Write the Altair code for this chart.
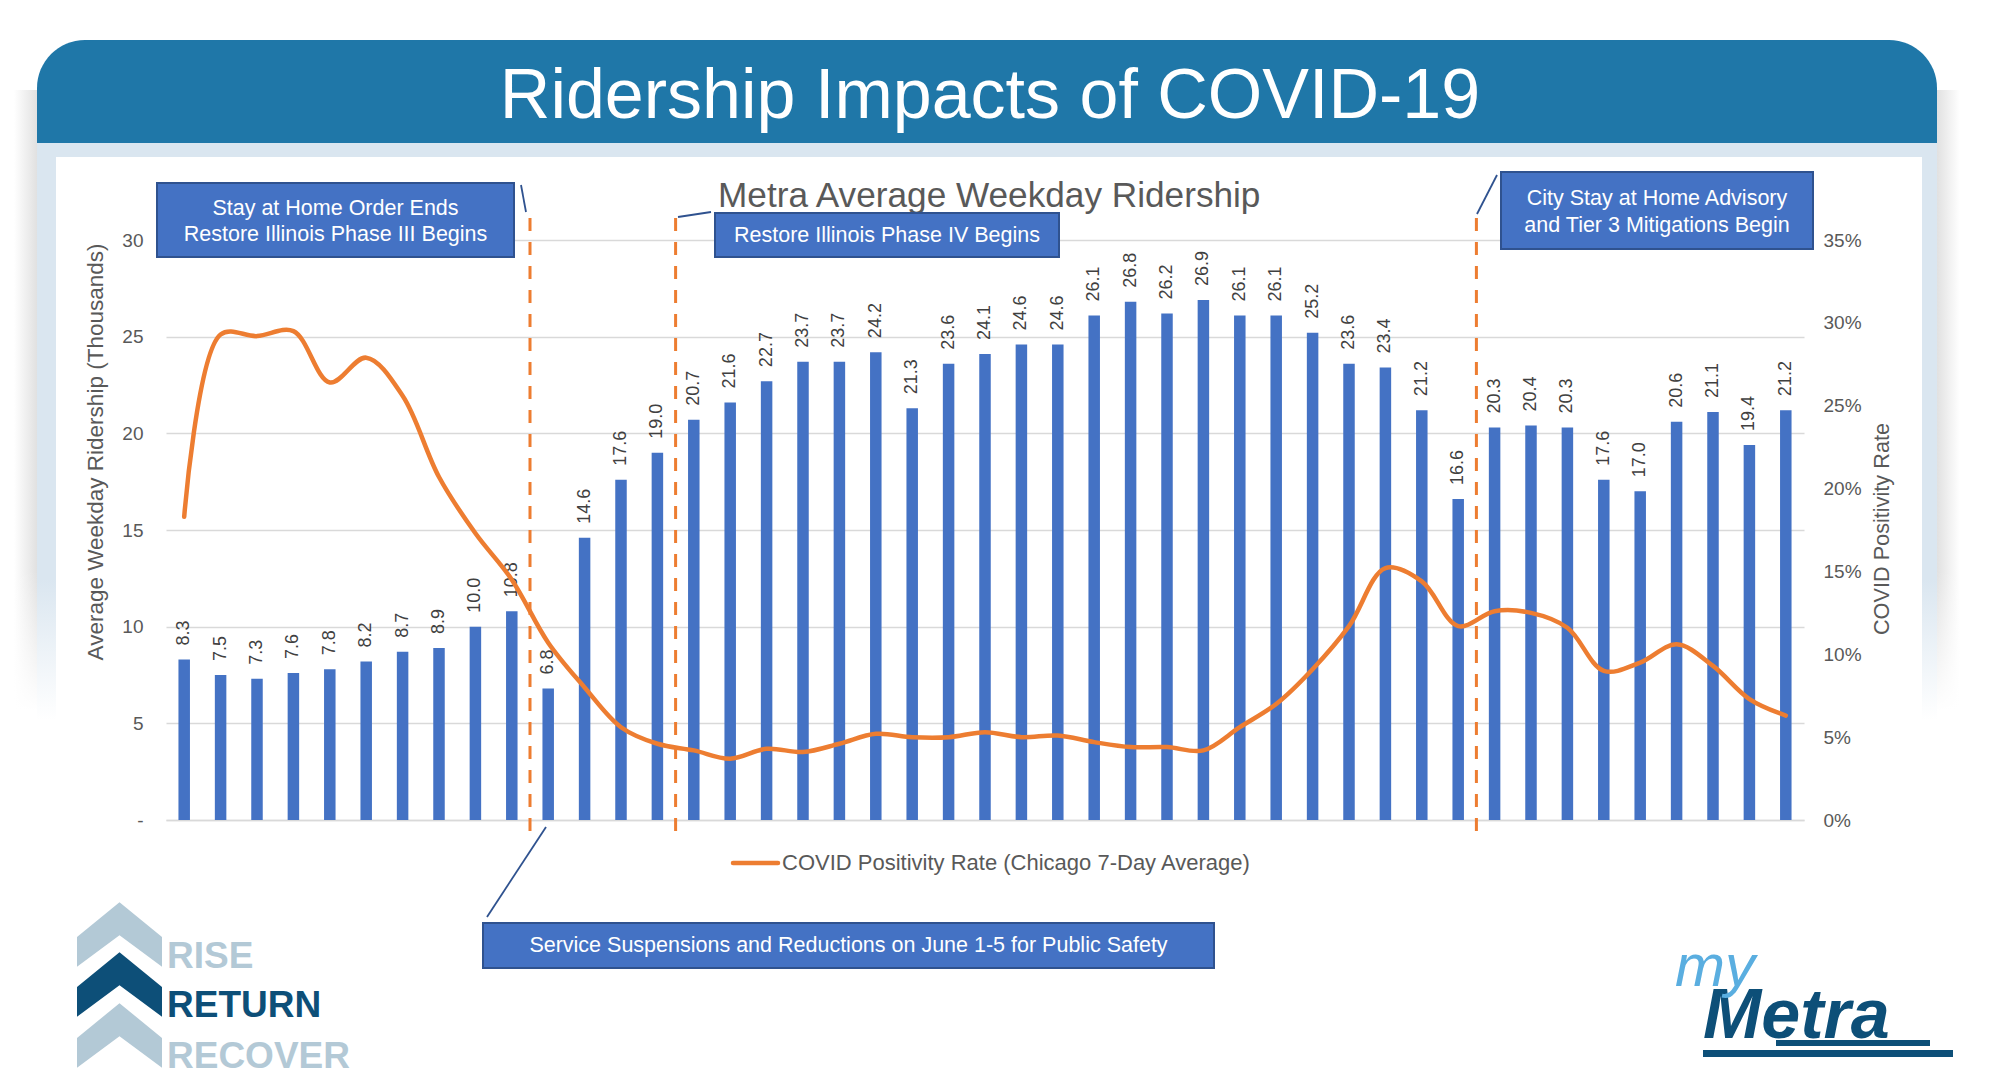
import altair as alt
import pandas as pd

FONT = "Liberation Sans"

# ---------------- data ----------------
ridership = [8.3, 7.5, 7.3, 7.6, 7.8, 8.2, 8.7, 8.9, 10.0, 10.8, 6.8, 14.6, 17.6, 19.0,
             20.7, 21.6, 22.7, 23.7, 23.7, 24.2, 21.3, 23.6, 24.1, 24.6, 24.6, 26.1, 26.8,
             26.2, 26.9, 26.1, 26.1, 25.2, 23.6, 23.4, 21.2, 16.6, 20.3, 20.4, 20.3, 17.6,
             17.0, 20.6, 21.1, 19.4, 21.2]
positivity = [18.3, 29.3, 29.2, 29.5, 26.4, 27.9, 25.6, 20.7, 17.3, 14.5, 10.7, 8.0, 5.6,
              4.6, 4.2, 3.7, 4.3, 4.1, 4.6, 5.2, 5.0, 5.0, 5.3, 5.0, 5.1, 4.7, 4.4, 4.4, 4.2,
              5.6, 7.0, 9.1, 11.7, 15.2, 14.4, 11.7, 12.6, 12.5, 11.6, 9.0, 9.5, 10.6, 9.3,
              7.3, 6.3]
weeks = list(range(len(ridership)))
event_positions = [9.5, 13.5, 35.5]   # boundaries between weeks where events occurred
left_ticks = [0, 5, 10, 15, 20, 25, 30]
right_ticks = [0, 5, 10, 15, 20, 25, 30, 35]

page_title = "Ridership Impacts of COVID-19"
chart_title = "Metra Average Weekday Ridership"
left_axis_title = "Average Weekday Ridership (Thousands)"
right_axis_title = "COVID Positivity Rate"
legend_label = "COVID Positivity Rate (Chicago 7-Day Average)"
box1_lines = ["Stay at Home Order Ends", "Restore Illinois Phase III Begins"]
box2_lines = ["Restore Illinois Phase IV Begins"]
box3_lines = ["City Stay at Home Advisory", "and Tier 3 Mitigations Begin"]
box4_lines = ["Service Suspensions and Reductions on June 1-5 for Public Safety"]
logo_words = ["RISE", "RETURN", "RECOVER"]

df = pd.DataFrame({"week": weeks, "riders": ridership, "rate": positivity})
ev = pd.DataFrame({"pos": event_positions})
one = pd.DataFrame({"k": [0]})

# ---------------- styles ----------------
BAR = "#4472C4"
ORANGE = "#ED7D31"
BOXLINE = "#2F528F"
GRAY = "#595959"
HEADER = "#1F77A8"
STRIP = "#DAE6F0"
LOGO_LIGHT = "#B3C9D6"
LOGO_DARK = "#0D4F78"

x_scale = alt.Scale(domain=[-0.5, 44.5], nice=False, zero=False, padding=0)
x_axis = alt.Axis(labels=False, ticks=False, grid=False, domain=True,
                  domainColor="#D9D9D9", domainWidth=1.5, title=None)
yl_scale = alt.Scale(domain=[0, 30], nice=False, padding=0)
yl_axis = alt.Axis(values=left_ticks, orient="left", title=None, domain=False, ticks=False,
                   grid=True, gridColor="#D9D9D9", gridWidth=1.3,
                   labelFont=FONT, labelFontSize=19, labelColor=GRAY, labelPadding=23,
                   labelExpr="datum.value == 0 ? '-\u00a0\u00a0' : datum.label")
yr_scale = alt.Scale(domain=[0, 35], nice=False, padding=0)
yr_axis = alt.Axis(values=right_ticks, orient="right", title=None, domain=False, ticks=False,
                   grid=False, labelFont=FONT, labelFontSize=19, labelColor=GRAY,
                   labelPadding=19, labelExpr="datum.value + '%'")


def rect(x, x2, y, y2, **kw):
    return alt.Chart(one).mark_rect(**kw).encode(
        x=alt.value(x), x2=alt.value(x2), y=alt.value(y), y2=alt.value(y2))


def seg(x, y, x2, y2, **kw):
    return alt.Chart(one).mark_rule(**kw).encode(
        x=alt.value(x), y=alt.value(y), x2=alt.value(x2), y2=alt.value(y2))


def txt(s, x, y, **kw):
    kw.setdefault("font", FONT)
    return alt.Chart(one).mark_text(text=s, **kw).encode(x=alt.value(x), y=alt.value(y))


# ---------------- decorations (pixel coords relative to plot origin) ----------------
deco = []
# card shadow
shadow_h = {"gradient": "linear", "x1": 0, "x2": 1, "y1": 0, "y2": 0,
            "stops": [{"offset": 0, "color": "#FFFFFF"}, {"offset": 1, "color": "#D4D4D4"}]}
shadow_h2 = {"gradient": "linear", "x1": 0, "x2": 1, "y1": 0, "y2": 0,
             "stops": [{"offset": 0, "color": "#D4D4D4"}, {"offset": 1, "color": "#FFFFFF"}]}
white_fade = {"gradient": "linear", "x1": 0, "x2": 0, "y1": 0, "y2": 1,
              "stops": [{"offset": 0, "color": "rgba(255,255,255,0)"},
                        {"offset": 1, "color": "rgba(255,255,255,1)"}]}
deco.append(rect(-152, -129, -150, 470, color=shadow_h, opacity=0.7))
deco.append(rect(1771, 1794, -150, 470, color=shadow_h2, opacity=0.7))
deco.append(rect(-152, -129, 330, 471, color=white_fade))
deco.append(rect(1771, 1794, 330, 471, color=white_fade))
# light blue frame
fade_v = {"gradient": "linear", "x1": 0, "x2": 0, "y1": 0, "y2": 1,
          "stops": [{"offset": 0, "color": STRIP}, {"offset": 0.75, "color": STRIP},
                    {"offset": 1, "color": "#FFFFFF"}]}
deco.append(rect(-129, 1771, -97, -83, color=STRIP))
deco.append(rect(-129, -110, -83, 480, color=fade_v))
deco.append(rect(1756, 1771, -83, 480, color=fade_v))
# header band
deco.append(rect(-129, 1771, -200, -97, color=HEADER,
                 cornerRadiusTopLeft=48, cornerRadiusTopRight=48))
N_BACK = len(deco)
deco.append(txt(page_title, 824, -122, align="center", baseline="alphabetic",
                fontSize=70, color="white"))
# chart title
deco.append(txt(chart_title, 552, -33, align="left", baseline="alphabetic",
                fontSize=35.2, color=GRAY))
# axis titles
deco.append(txt(left_axis_title, -70, 212, align="center", baseline="middle", angle=270,
                fontSize=22.5, color=GRAY))
deco.append(txt(right_axis_title, 1716, 289, align="center", baseline="middle", angle=270,
                fontSize=21.7, color=GRAY))
# legend
deco.append(seg(567, 623, 612, 623, color=ORANGE, strokeWidth=4.5, strokeCap="round"))
deco.append(txt(legend_label, 616, 623, align="left", baseline="middle",
                fontSize=22, color=GRAY))

# annotation boxes
def box(x, x2, y, y2, lines, line_ys):
    out = [rect(x, x2, y, y2, color=BAR, stroke=BOXLINE, strokeWidth=2)]
    for s, ly in zip(lines, line_ys):
        out.append(txt(s, (x + x2) / 2, ly, align="center", baseline="middle",
                       fontSize=21.5, color="white"))
    return out


deco += box(-9, 348, -57, 17, box1_lines, [-31, -5])
deco += box(549, 893, -27, 17, box2_lines, [-4])
deco += box(1335, 1647, -68, 9, box3_lines, [-41, -14])
deco += box(317, 1048, 683, 728, box4_lines, [706])
# connector lines
deco.append(seg(355, -55, 360, -28, color=BOXLINE, strokeWidth=1.8))
deco.append(seg(512, -23, 545, -28, color=BOXLINE, strokeWidth=1.8))
deco.append(seg(1311, -26, 1331, -65, color=BOXLINE, strokeWidth=1.8))
deco.append(seg(380, 587, 321, 677, color=BOXLINE, strokeWidth=1.8))

# Rise / Return / Recover logo
CHEV = "M -1 0.06 L 0 -0.76 L 1 0.06 L 1 0.76 L 0 0.02 L -1 0.76 Z"
for cy, col in [(694.5, LOGO_LIGHT), (744.5, LOGO_DARK), (795.5, LOGO_LIGHT)]:
    deco.append(alt.Chart(one).mark_point(shape=CHEV, size=7225, filled=True, color=col,
                                          opacity=1, strokeWidth=0)
                .encode(x=alt.value(-46.5), y=alt.value(cy)))
for word, by, col in zip(logo_words, [728, 777, 828], [LOGO_LIGHT, LOGO_DARK, LOGO_LIGHT]):
    deco.append(txt(word, 1, by, align="left", baseline="alphabetic", fontSize=37,
                    fontWeight="bold", color=col))
# myMetra logo
deco.append(rect(1610, 1764, 800, 806, color=LOGO_DARK))
deco.append(rect(1537, 1787, 810, 817, color=LOGO_DARK))
deco.append(txt("Metra", 1537, 798, align="left", baseline="alphabetic", fontSize=70,
                fontWeight="bold", fontStyle="italic", color=LOGO_DARK))
deco.append(txt("my", 1509, 746, align="left", baseline="alphabetic", fontSize=60,
                fontStyle="italic", color="#5AAEE0"))

# ---------------- data layers ----------------
base = alt.Chart(df)
bars = base.mark_bar(color=BAR, width=11.5).encode(
    x=alt.X("week:Q", scale=x_scale, axis=x_axis),
    y=alt.Y("riders:Q", scale=yl_scale, axis=yl_axis),
)
labels = base.mark_text(angle=270, align="left", baseline="middle", dx=14, fontSize=18,
                        font=FONT, color="#404040").encode(
    x=alt.X("week:Q", scale=x_scale, axis=x_axis),
    y=alt.Y("riders:Q", scale=yl_scale, axis=yl_axis),
    text=alt.Text("riders:Q", format=".1f"),
)
line = base.mark_line(color=ORANGE, strokeWidth=4.5, interpolate="catmull-rom",
                      strokeCap="round").encode(
    x=alt.X("week:Q", scale=x_scale, axis=x_axis),
    y=alt.Y("rate:Q", scale=yr_scale, axis=yr_axis),
)
events = alt.Chart(ev).mark_rule(color=ORANGE, strokeWidth=3, strokeDash=[13, 11]).encode(
    x=alt.X("pos:Q", scale=x_scale, axis=x_axis),
    y=alt.value(-22), y2=alt.value(593),
)

left_layer = alt.layer(bars, labels)
chart = alt.layer(*deco[:N_BACK], left_layer, line, events, *deco[N_BACK:]).resolve_scale(
    y="independent"
).properties(
    width=1638, height=580,
    padding={"left": 158, "top": 232, "right": 185, "bottom": 264},
    autosize=alt.AutoSizeParams(type="none"),
    background="white",
).configure_view(strokeWidth=0)

chart.save("out.html", embed_options={"renderer": "svg", "actions": False})
